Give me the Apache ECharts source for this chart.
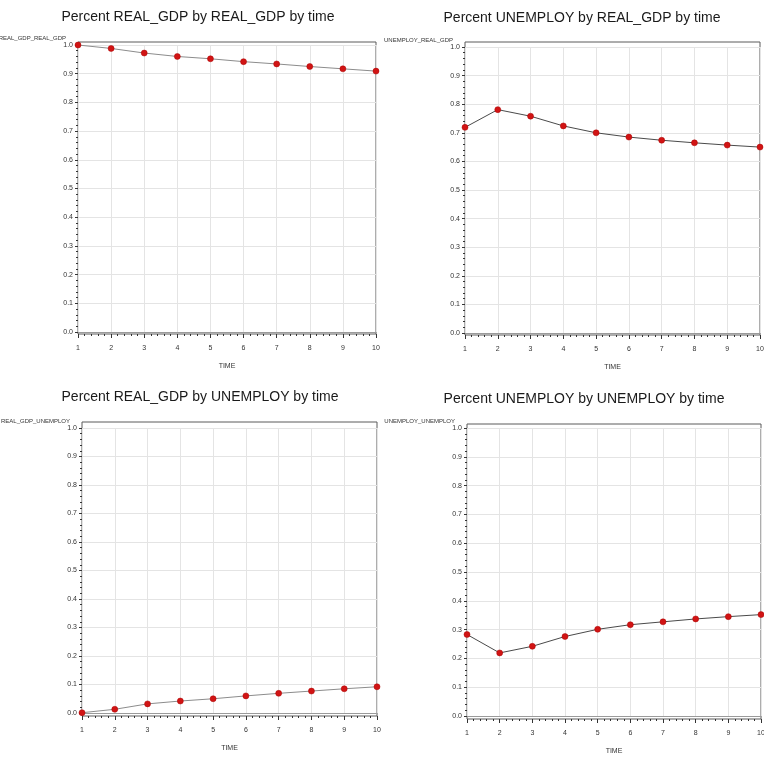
<!DOCTYPE html>
<html>
<head>
<meta charset="utf-8">
<script src="https://cdn.jsdelivr.net/npm/echarts@6/dist/echarts.min.js"></script>
<style>
html,body{margin:0;padding:0;background:#fff;}
#chart{width:764px;height:757px;}
</style>
</head>
<body>
<div id="chart"></div>
<script>
// ---- data ----
const time = [1, 2, 3, 4, 5, 6, 7, 8, 9, 10];
const realGdpByRealGdp = [1.000, 0.988, 0.972, 0.960, 0.952, 0.942, 0.934, 0.925, 0.917, 0.909];
const unemployByRealGdp = [0.719, 0.781, 0.758, 0.724, 0.700, 0.685, 0.674, 0.665, 0.657, 0.650];
const realGdpByUnemploy = [0.001, 0.013, 0.032, 0.042, 0.050, 0.060, 0.069, 0.077, 0.085, 0.092];
const unemployByUnemploy = [0.283, 0.219, 0.242, 0.276, 0.301, 0.317, 0.327, 0.337, 0.345, 0.352];
const titles = [
  'Percent REAL_GDP by REAL_GDP by time',
  'Percent UNEMPLOY by REAL_GDP by time',
  'Percent REAL_GDP by UNEMPLOY by time',
  'Percent UNEMPLOY by UNEMPLOY by time'
];
const yNames = ['REAL_GDP_REAL_GDP', 'UNEMPLOY_REAL_GDP', 'REAL_GDP_UNEMPLOY', 'UNEMPLOY_UNEMPLOY'];
const xName = 'TIME';
const yTickLabels = ['0.0','0.1','0.2','0.3','0.4','0.5','0.6','0.7','0.8','0.9','1.0'];
const seriesValues = [realGdpByRealGdp, unemployByRealGdp, realGdpByUnemploy, unemployByUnemploy];

// ---- layout (pixel geometry) ----
const panels = [
  { left: 78,  right: 376, frameTop: 42,  frameBottom: 334, top1: 45,  zero: 332, titleX: 193, titleY: 5,   line: '#8c8c8c' },
  { left: 465, right: 760, frameTop: 42,  frameBottom: 335, top1: 47,  zero: 333, titleX: 577, titleY: 6,   line: '#4a4a4a' },
  { left: 82,  right: 377, frameTop: 422, frameBottom: 716, top1: 428, zero: 713, titleX: 195, titleY: 385, line: '#8c8c8c' },
  { left: 467, right: 761, frameTop: 424, frameBottom: 719, top1: 428, zero: 716, titleX: 579, titleY: 387, line: '#4a4a4a' }
];

const FONT = '"Liberation Sans", Arial, sans-serif';
const grids = [], xAxes = [], yAxes = [], series = [], titleOpts = [];

panels.forEach((p, i) => {
  const outer = i * 2, inner = i * 2 + 1;
  titleOpts.push({
    text: titles[i], left: p.titleX, top: p.titleY, textAlign: 'center',
    textStyle: { fontFamily: FONT, fontSize: 14, fontWeight: 'normal', color: '#1a1a1a' }
  });
  // outer frame grid
  grids.push({
    left: p.left, top: p.frameTop, width: p.right - p.left, height: p.frameBottom - p.frameTop,
    outerBoundsMode: 'none', containLabel: false,
    show: true, borderColor: '#5a5a5a', borderWidth: 1, backgroundColor: 'transparent'
  });
  // inner data grid
  grids.push({
    left: p.left, top: p.top1, width: p.right - p.left, height: p.zero - p.top1,
    outerBoundsMode: 'none', containLabel: false,
    show: false
  });
  xAxes.push({
    gridIndex: outer, type: 'value', min: 1, max: 10, interval: 1,
    axisLine: { show: false },
    axisTick: { show: true, length: 4, lineStyle: { color: '#333' } },
    minorTick: { show: true, splitNumber: 5, length: 2, lineStyle: { color: '#333' } },
    axisLabel: { fontFamily: FONT, fontSize: 7, color: '#333', margin: 11 },
    splitLine: { show: false },
    name: xName, nameLocation: 'middle', nameGap: 29,
    nameTextStyle: { fontFamily: FONT, fontSize: 7, color: '#333' }
  });
  yAxes.push({ gridIndex: outer, type: 'value', min: 0, max: 1, show: false });
  xAxes.push({
    gridIndex: inner, type: 'value', min: 1, max: 10, interval: 1,
    axisLine: { show: true, onZero: false, lineStyle: { color: '#9a9a9a', width: 1 } },
    axisTick: { show: false }, axisLabel: { show: false },
    splitLine: { show: true, lineStyle: { color: '#e4e4e4', width: 1 } }
  });
  yAxes.push({
    gridIndex: inner, type: 'value', min: 0, max: 1, interval: 0.1,
    axisLine: { show: false },
    axisTick: { show: true, length: 3, lineStyle: { color: '#333' } },
    minorTick: { show: true, splitNumber: 5, length: 2, lineStyle: { color: '#333' } },
    axisLabel: {
      fontFamily: FONT, fontSize: 7, color: '#333', margin: 5,
      formatter: v => yTickLabels[Math.round(v * 10)]
    },
    splitLine: { show: true, lineStyle: { color: '#e4e4e4', width: 1 } },
    name: yNames[i], nameLocation: 'end', nameGap: 7,
    nameTextStyle: { fontFamily: FONT, fontSize: 6, color: '#333', align: 'right', verticalAlign: 'middle', padding: [0, 12, 0, 0] }
  });
  series.push({
    type: 'line', xAxisIndex: inner, yAxisIndex: inner,
    data: time.map((t, k) => [t, seriesValues[i][k]]),
    symbol: 'circle', symbolSize: 6,
    itemStyle: { color: '#d11414', borderColor: '#a00', borderWidth: 0.5 },
    lineStyle: { color: p.line, width: 1 },
    animation: false, silent: true
  });
});

const chart = echarts.init(document.getElementById('chart'), null, { renderer: 'canvas' });
chart.setOption({
  backgroundColor: '#fff',
  animation: false,
  title: titleOpts,
  grid: grids,
  xAxis: xAxes,
  yAxis: yAxes,
  series: series
});
</script>
</body>
</html>
